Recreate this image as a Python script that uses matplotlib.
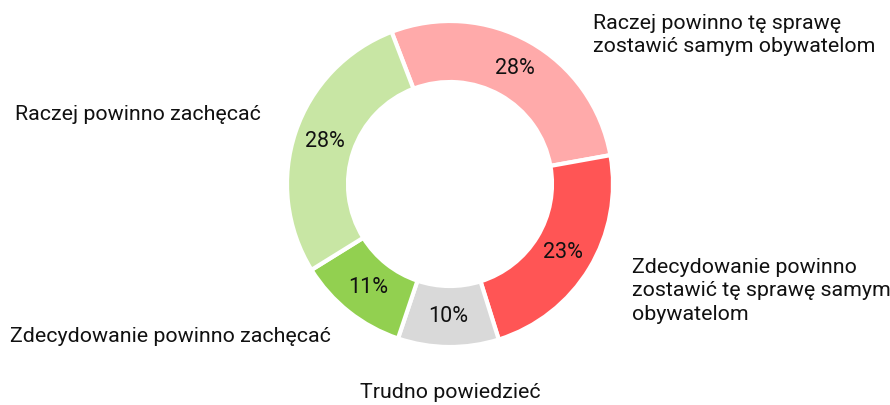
import matplotlib
matplotlib.use("Agg")
import matplotlib.pyplot as plt

# data, clockwise from the top
labels = ["Raczej powinno tę sprawę\nzostawić samym obywatelom",
          "Zdecydowanie powinno\nzostawić tę sprawę samym\nobywatelom",
          "Trudno powiedzieć",
          "Zdecydowanie powinno zachęcać",
          "Raczej powinno zachęcać"]
shares = [28, 23, 10, 11, 28]
colors = ["#FFAAAA", "#FF5555", "#D9D9D9", "#92D050", "#C8E6A4"]

# where the outside labels go (pixel coords, top-left origin) and alignment
label_pos = [(593, 35, "left"), (632, 291, "left"), (450, 393, "center"),
             (10, 336, "left"), (15, 115, "left")]

W, H = 890, 405
CX, CY, R, RIN = 450, 184, 163, 102

plt.rcParams["font.family"] = ["Roboto", "DejaVu Sans"]

fig = plt.figure(figsize=(W / 100, H / 100), dpi=100)
ax = fig.add_axes([0, 0, 1, 1])

wedges, _, pct = ax.pie(
    shares, colors=colors, startangle=111, counterclock=False,
    center=(CX, H - CY), radius=R,
    wedgeprops=dict(width=R - RIN, edgecolor="white", linewidth=3),
    autopct="%d%%", pctdistance=(R + RIN) / 2 / R,
    textprops=dict(fontsize=15.5, color="#111111"),
)

for (x, y, ha), lab in zip(label_pos, labels):
    ax.text(x, H - y, lab, ha=ha, va="center", fontsize=15.4,
            color="#111111", linespacing=1.28)

ax.set_xlim(0, W)
ax.set_ylim(0, H)
ax.set_aspect("equal")
ax.axis("off")

fig.savefig("out.png", dpi=100)
